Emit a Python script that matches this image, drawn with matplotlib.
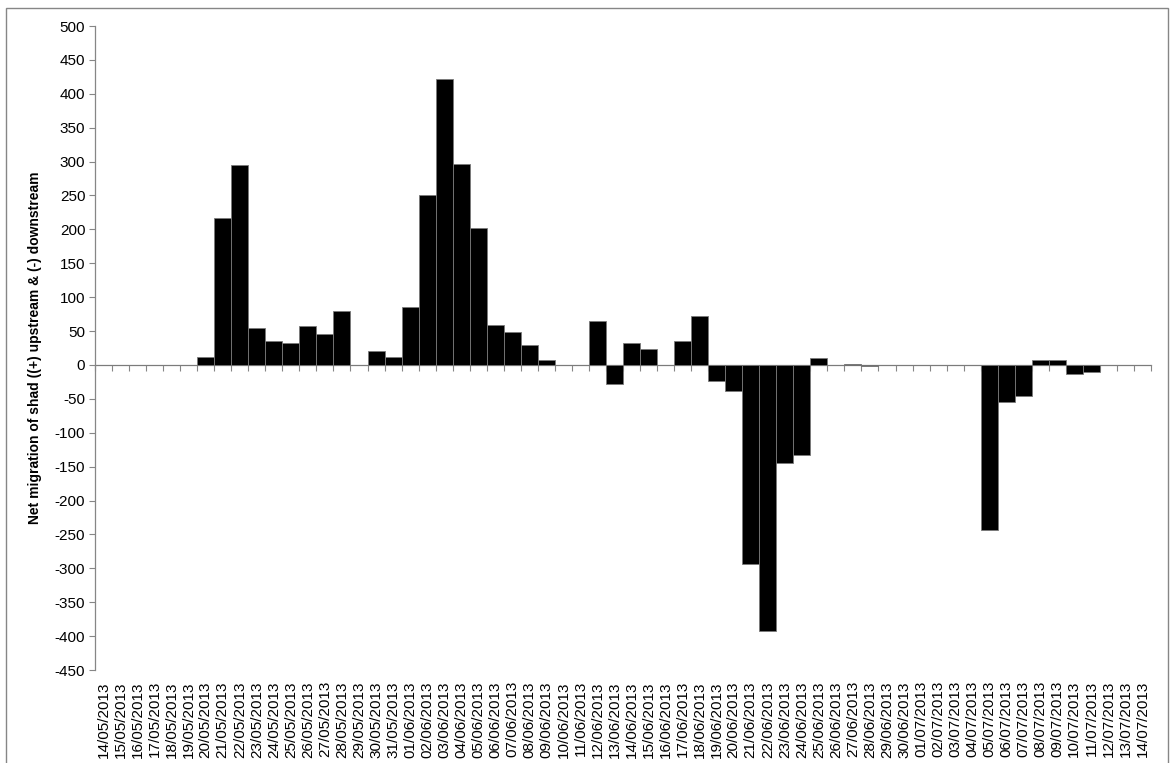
import matplotlib
matplotlib.use("Agg")
import matplotlib.pyplot as plt
from matplotlib.patches import Rectangle
import numpy as np
import pandas as pd

# Daily net passage of shad past the counter, 14 May - 14 July 2013
dates = pd.date_range("2013-05-14", "2013-07-14", freq="D")
date_labels = [d.strftime("%d/%m/%Y") for d in dates]
net_migration = [
    0, 0, 0, 0, 0, 0, 12, 217, 295, 54,          # 14/05 - 23/05
    36, 33, 57, 46, 79, 0, 21, 11, 85, 250,      # 24/05 - 02/06
    422, 297, 202, 59, 49, 30, 7, 0, 0, 65,      # 03/06 - 12/06
    -28, 32, 24, 0, 36, 72, -24, -39, -294, -392,  # 13/06 - 22/06
    -145, -133, 10, 0, 2, -2, 0, 0, 0, 0,        # 23/06 - 02/07
    0, 0, -244, -55, -46, 8, 8, -13, -10, 0,     # 03/07 - 12/07
    0, 0,                                        # 13/07 - 14/07
]
y_ticks = np.arange(-450, 501, 50)

grey = "#868686"
plt.rcParams["font.family"] = ["Liberation Sans", "DejaVu Sans"]

fig = plt.figure(figsize=(11.72, 7.63), dpi=100)
ax = fig.add_axes([95 / 1172, 93 / 763, 1056 / 1172, 644 / 763])

x = np.arange(len(net_migration))
ax.bar(x, net_migration, width=1.0, color="black", edgecolor="#7a7a7a",
       linewidth=0.6, zorder=1)

ax.set_xlim(-0.5, len(net_migration) - 0.5)
ax.set_ylim(-450, 500)
ax.set_yticks(y_ticks)
ax.set_yticklabels([str(v) for v in y_ticks], fontsize=11)
ax.tick_params(axis="y", direction="out", length=4, width=0.8, color=grey, pad=3)

# date labels sit along the bottom of the plot area
ax.set_xticks(x)
ax.set_xticklabels(date_labels, rotation=90, fontsize=11)
ax.tick_params(axis="x", length=0, pad=8)

for side in ("top", "right", "bottom"):
    ax.spines[side].set_visible(False)
ax.spines["left"].set_color(grey)
ax.spines["left"].set_linewidth(0.9)

# zero line with category boundary ticks
zero_axis = ax.secondary_xaxis(0, transform=ax.transData)
zero_axis.set_xticks(np.arange(len(net_migration) + 1) - 0.5)
zero_axis.set_xticklabels([])
zero_axis.tick_params(direction="out", length=4, width=0.8, color=grey)
zero_axis.spines["bottom"].set_color(grey)
zero_axis.spines["bottom"].set_linewidth(0.9)

ax.set_ylabel("Net migration of shad ((+) upstream & (-) downstream",
              fontsize=10, fontweight="bold", labelpad=9)

# chart area frame
fig.patches.append(Rectangle((6 / 1172, -0.02), 1162 / 1172, 1.02 - 8 / 763,
                             transform=fig.transFigure, fill=False,
                             edgecolor=grey, linewidth=1.0))

fig.savefig("out.png", dpi=100)
